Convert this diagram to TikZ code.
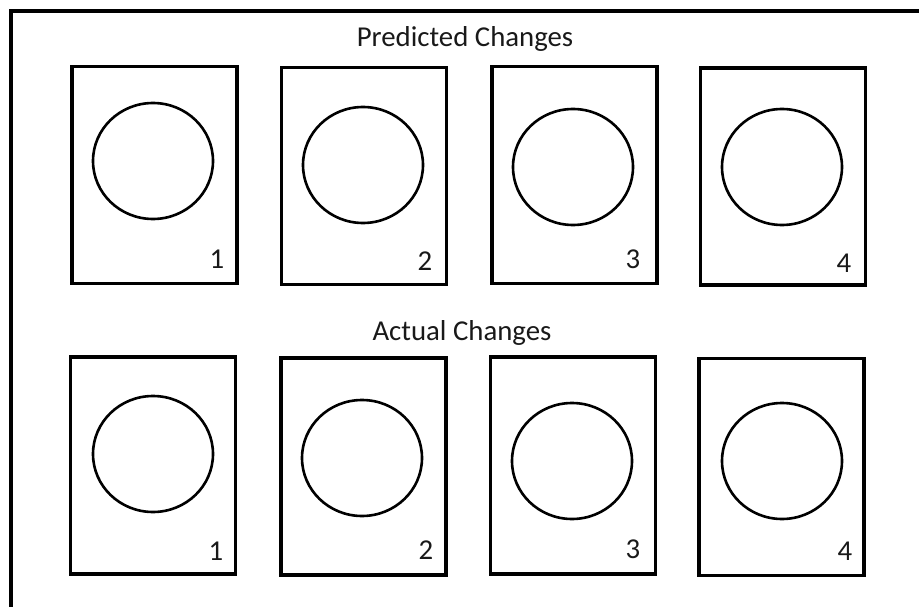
\documentclass[tikz,border=0pt]{standalone}
\usepackage{fontspec}
\setmainfont{Carlito}
\usepackage{tikz}
\usetikzlibrary{shapes.geometric}

\tikzset{
  panel/.style={draw, line width=3.2pt, minimum width=165pt, minimum height=217pt, inner sep=0pt},
  ring/.style={draw, ellipse, line width=2.6pt, minimum width=120pt, minimum height=116pt, inner sep=0pt},
  tag/.style={anchor=base, inner sep=0pt, text=black!90, font=\fontsize{28.8}{34}\selectfont},
  heading/.style={tag}
}

\begin{document}
\begin{tikzpicture}[x=1pt, y=-1pt]
        \useasboundingbox (0,0) rectangle (919,607);

        % Frame
        \draw[line width=3.6pt] (11,607) -- (11,11) -- (919,11);

        % Predicted row
        \node[heading] (predicted) at (465,47) {Predicted Changes};
        \node[panel] (p1) at (154.5,175) {};
        \node[ring] (pc1) at (153,161) {};
        \node[tag] (pn1) at (217,268) {1};
        \node[panel] (p2) at (364,176) {};
        \node[ring] (pc2) at (363,165) {};
        \node[tag] (pn2) at (425,270) {2};
        \node[panel] (p3) at (574.5,175) {};
        \node[ring] (pc3) at (573,167) {};
        \node[tag] (pn3) at (633,268) {3};
        \node[panel] (p4) at (783,176.5) {};
        \node[ring] (pc4) at (782,167) {};
        \node[tag] (pn4) at (844,272) {4};

        % Actual row
        \node[heading] (actual) at (462,340) {Actual Changes};
        \node[panel] (a1) at (153,465.5) {};
        \node[ring] (ac1) at (153,454) {};
        \node[tag] (an1) at (216,560) {1};
        \node[panel] (a2) at (363.5,466.5) {};
        \node[ring] (ac2) at (362,458) {};
        \node[tag] (an2) at (426,559) {2};
        \node[panel] (a3) at (573,465.5) {};
        \node[ring] (ac3) at (572,461) {};
        \node[tag] (an3) at (633,558) {3};
        \node[panel] (a4) at (781.5,467) {};
        \node[ring] (ac4) at (782,461) {};
        \node[tag] (an4) at (845,560) {4};

    \end{tikzpicture}
\end{document}
